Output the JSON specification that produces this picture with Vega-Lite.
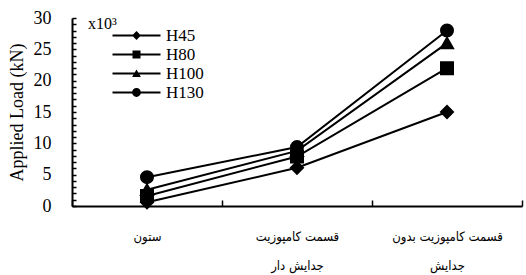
{
  "$schema": "https://vega.github.io/schema/vega-lite/v6.json",
  "autosize": {"type": "none"},
  "width": 450,
  "height": 188,
  "padding": {"left": 72, "top": 18, "right": 4, "bottom": 69},
  "background": "white",
  "title": {
    "text": "x10³",
    "anchor": "start",
    "frame": "group",
    "dx": 16,
    "dy": 8,
    "offset": -28,
    "baseline": "alphabetic",
    "font": "Liberation Serif",
    "fontSize": 16,
    "fontWeight": "normal",
    "color": "black"
  },
  "config": {
    "view": {"stroke": null},
    "axis": {"grid": false, "domainColor": "black", "tickColor": "black", "labelColor": "black", "titleColor": "black"}
  },
  "data": {
    "values": [
      {"category": "ستون", "series": "H45", "load": 0.6},
      {"category": "قسمت کامپوزیت|جدایش دار", "series": "H45", "load": 6.1},
      {"category": "قسمت کامپوزیت بدون|جدایش", "series": "H45", "load": 15},
      {"category": "ستون", "series": "H80", "load": 1.6},
      {"category": "قسمت کامپوزیت|جدایش دار", "series": "H80", "load": 7.9},
      {"category": "قسمت کامپوزیت بدون|جدایش", "series": "H80", "load": 22},
      {"category": "ستون", "series": "H100", "load": 2.6},
      {"category": "قسمت کامپوزیت|جدایش دار", "series": "H100", "load": 8.8},
      {"category": "قسمت کامپوزیت بدون|جدایش", "series": "H100", "load": 26},
      {"category": "ستون", "series": "H130", "load": 4.6},
      {"category": "قسمت کامپوزیت|جدایش دار", "series": "H130", "load": 9.4},
      {"category": "قسمت کامپوزیت بدون|جدایش", "series": "H130", "load": 28}
    ]
  },
  "encoding": {
    "x": {
      "field": "category",
      "type": "nominal",
      "sort": ["ستون", "قسمت کامپوزیت|جدایش دار", "قسمت کامپوزیت بدون|جدایش"],
      "scale": {"type": "band", "paddingInner": 0, "paddingOuter": 0},
      "bandPosition": 0.5,
      "axis": {
        "title": null,
        "labelAngle": 0,
        "tickBand": "extent",
        "tickSize": -6,
        "tickWidth": 1.5,
        "domainWidth": 2,
        "labelExpr": "split(datum.label, '|')",
        "labelFont": "DejaVu Sans Condensed, DejaVu Sans",
        "labelFontSize": 13,
        "labelLineHeight": 29,
        "labelPadding": 36,
        "labelBaseline": "middle"
      }
    },
    "y": {
      "field": "load",
      "type": "quantitative",
      "scale": {"domain": [0, 30], "nice": false},
      "axis": {
        "title": "Applied Load (kN)",
        "titleFont": "Liberation Serif",
        "titleFontSize": 18,
        "titleFontWeight": "normal",
        "titlePadding": 7,
        "values": [0,1,2,3,4,5,6,7,8,9,10,11,12,13,14,15,16,17,18,19,20,21,22,23,24,25,26,27,28,29,30],
        "labelExpr": "datum.value % 5 == 0 ? datum.label : ''",
        "labelFont": "Liberation Serif",
        "labelFontSize": 18,
        "labelPadding": 25,
        "tickSize": -4,
        "tickWidth": 1.5,
        "domainWidth": 2
      }
    }
  },
  "layer": [
    {
      "mark": {"type": "line", "color": "black", "strokeWidth": 2},
      "encoding": {"detail": {"field": "series"}}
    },
    {
      "mark": {"type": "point", "filled": true, "fill": "black", "stroke": "black", "strokeWidth": 2, "opacity": 1, "size": 144},
      "encoding": {
        "shape": {
          "field": "series",
          "type": "nominal",
          "scale": {"domain": ["H45", "H80", "H100", "H130"], "range": ["diamond", "square", "triangle-up", "circle"]},
          "legend": null
        }
      }
    },
    {
      "mark": {"type": "point", "filled": true, "fill": "black", "opacity": 0, "size": 64},
      "encoding": {
        "shape": {
          "field": "series",
          "type": "nominal",
          "scale": {
            "domain": ["H45", "H80", "H100", "H130"],
            "range": [
              "M-6,-0.25L6,-0.25L6,0.25L-6,0.25ZM0,-1.1L1.1,0L0,1.1L-1.1,0Z",
              "M-6,-0.25L6,-0.25L6,0.25L-6,0.25ZM-1,-1L1,-1L1,1L-1,1Z",
              "M-6,-0.25L6,-0.25L6,0.25L-6,0.25ZM0,-1L1.1,0.9L-1.1,0.9Z",
              "M-6,-0.25L6,-0.25L6,0.25L-6,0.25ZM-1.1,0A1.1,1.1,0,1,1,1.1,0A1.1,1.1,0,1,1,-1.1,0Z"
            ]
          },
          "legend": {
            "title": null,
            "orient": "none",
            "legendX": 32,
            "legendY": 9,
            "padding": 0,
            "symbolSize": 64,
            "symbolOffset": 24,
            "labelOffset": 21,
            "rowPadding": 1,
            "symbolOpacity": 1,
            "symbolFillColor": "black",
            "labelFont": "Liberation Serif",
            "labelFontSize": 17,
            "labelColor": "black"
          }
        }
      }
    }
  ],
  "resolve": {"scale": {"shape": "independent"}, "legend": {"shape": "independent"}}
}
